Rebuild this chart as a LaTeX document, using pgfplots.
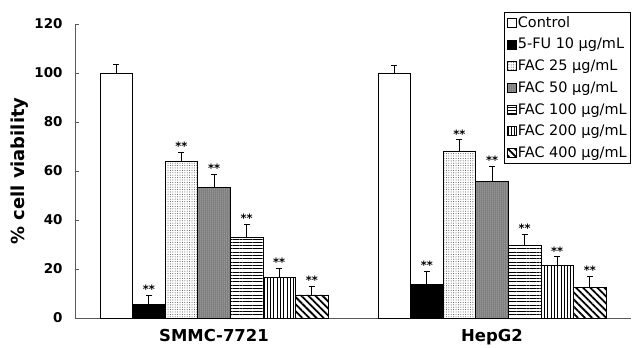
\documentclass[border=0pt]{standalone}
\usepackage{fontspec}
\setmainfont{DejaVu Sans}
\usepackage{pgfplots}
\pgfplotsset{compat=1.18}
\usetikzlibrary{patterns,patterns.meta}
\begin{document}
\begin{tikzpicture}[x=1bp,y=1bp]
\begin{axis}[
  name=ax,
  scale only axis,
  width=556bp, height=294bp,
  xmin=-0.5, xmax=1.5,
  ymin=0, ymax=120,
  ytick={0,20,40,60,80,100,120},
  xtick={0,1},
  xticklabels={SMMC-7721,HepG2},
  extra x ticks={-0.5,0.5,1.5},
  extra x tick labels={},
  extra x tick style={major tick length=5bp, tick align=inside},
  axis x line*=bottom,
  axis y line*=left,
  axis line style={draw=black!65, line width=0.8bp},
  every tick/.style={draw=black!65, line width=0.8bp},
  x tick style={draw=none},
  tick align=inside,
  major tick length=4bp,
  /pgf/number format/assume math mode=true,
  ticklabel style={font=\bfseries\fontsize{13.5}{13.5}\selectfont},
  yticklabel style={xshift=-9bp},
  xticklabel style={font=\bfseries\fontsize{16.5}{16.5}\selectfont, yshift=-8bp},
  ylabel={\% cell viability},
  ylabel style={font=\bfseries\fontsize{18}{18}\selectfont, yshift=-1bp},
  legend style={at={(1.0,1.041)}, anchor=north east, draw=black, line width=0.6bp,
    font=\fontsize{14.5}{14.5}\selectfont, row sep=7.5bp, inner sep=3bp,
    nodes={inner sep=1bp}},
  legend cell align=left,
  legend image code/.code={\draw[#1, line width=0.5bp] (0bp,-4.5bp) rectangle (9bp,4.5bp);},
  mybar/.style={ybar, bar width=0.1173, bar shift=0, draw=black, line width=0.7bp,
    error bars/y dir=plus, error bars/y explicit,
    error bars/error bar style={black, line width=0.8bp},
    error bars/error mark options={rotate=90, mark size=3bp, line width=0.8bp}},
]
\addplot[mybar, fill=white] coordinates {(-0.3519,100) +- (0,3.7) (0.6481,100) +- (0,3.3)};
\addlegendentry{Control}
\addplot[mybar, fill=black] coordinates {(-0.2346,5.6) +- (0,3.8) (0.7654,13.7) +- (0,5.2)};
\addlegendentry{5-FU 10 µg/mL}
\addplot[mybar, fill=white, postaction={pattern={Dots[distance=2.4bp, radius=0.5bp]}, pattern color=black!70}] coordinates {(-0.1173,64.0) +- (0,3.5) (0.8827,68.2) +- (0,4.5)};
\addlegendentry{FAC 25 µg/mL}
\addplot[mybar, fill=black!55, postaction={pattern={Dots[distance=2bp, radius=0.5bp]}, pattern color=white}] coordinates {(0,53.2) +- (0,5.4) (1,55.6) +- (0,6.2)};
\addlegendentry{FAC 50 µg/mL}
\addplot[mybar, fill=white, postaction={pattern={Lines[angle=0, distance=3.3bp, line width=1bp]}, pattern color=black}] coordinates {(0.1173,32.8) +- (0,5.6) (1.1173,29.5) +- (0,4.7)};
\addlegendentry{FAC 100 µg/mL}
\addplot[mybar, fill=white, postaction={pattern={Lines[angle=90, distance=3.3bp, line width=1bp]}, pattern color=black}] coordinates {(0.2346,16.5) +- (0,3.9) (1.2346,21.6) +- (0,3.4)};
\addlegendentry{FAC 200 µg/mL}
\addplot[mybar, fill=white, postaction={pattern={Lines[angle=-45, distance=5bp, line width=1.8bp]}, pattern color=black}] coordinates {(0.3519,9.4) +- (0,3.4) (1.3519,12.5) +- (0,4.6)};
\addlegendentry{FAC 400 µg/mL}
\addplot[forget plot, draw=none, mark=none, nodes near coords={**},
  every node near coord/.style={font=\bfseries\fontsize{11.5}{11.5}\selectfont, anchor=south, inner sep=1.5bp}]
  coordinates {(-0.2346,9.4) (-0.1173,67.5) (0,58.6) (0.1173,38.4) (0.2346,20.4) (0.3519,12.8)
   (0.7654,18.9) (0.8827,72.7) (1,61.8) (1.1173,34.2) (1.2346,25.0) (1.3519,17.1)};
\coordinate (O) at (rel axis cs:0,0);
\coordinate (T) at (rel axis cs:1,1);
\end{axis}
\pgfresetboundingbox
\path ([shift={(-75bp,-30bp)}]O) rectangle ([shift={(1bp,24bp)}]T);
\end{tikzpicture}
\end{document}
